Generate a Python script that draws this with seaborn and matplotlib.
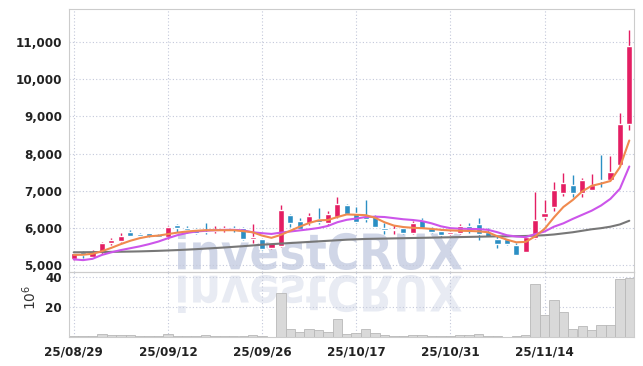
import numpy as np
import pandas as pd
import matplotlib
matplotlib.use('Agg')
import matplotlib.pyplot as plt
import seaborn as sns
from matplotlib.textpath import TextPath
from matplotlib.patches import PathPatch
from matplotlib.font_manager import FontProperties
from matplotlib.transforms import Affine2D, IdentityTransform
from matplotlib.ticker import FuncFormatter

# tick labels on the date axis (every 10th session)
date_labels = ['25/08/29', '25/09/12', '25/09/26', '25/10/17', '25/10/31', '25/11/14']
label_pos = [0, 10, 20, 30, 40, 50]

# daily candles
opens = [5170, 5360, 5220, 5350, 5590, 5640, 5900, 5820, 5855, 5810,
         5750, 6070, 6000, 5975, 5890, 5925, 5950, 6000, 6005, 5690,
         5700, 5450, 5500, 6355, 6175, 6125, 6225, 6130, 6290, 6620,
         6390, 6330, 6330, 6005, 5945, 5990, 5865, 6220, 6000, 5925,
         5835, 5855, 6060, 6115, 5880, 5685, 5685, 5550, 5360, 5720,
         6290, 6555, 6930, 7165, 6945, 7030, 7280, 7300, 7700, 8785]
highs = [5340, 5370, 5390, 5630, 5720, 5855, 5945, 5855, 5870, 5835,
         6060, 6100, 6040, 5990, 6135, 6060, 6040, 6060, 6010, 6100,
         5710, 5600, 6620, 6360, 6270, 6400, 6530, 6440, 6820, 6630,
         6555, 6735, 6340, 6135, 6070, 5995, 6190, 6260, 6010, 5960,
         5905, 6090, 6135, 6270, 5985, 5790, 5690, 5600, 5750, 6960,
         6755, 7230, 7480, 7430, 7350, 7440, 7970, 7930, 9090, 11320]
lows = [5140, 5180, 5200, 5300, 5550, 5610, 5770, 5740, 5745, 5750,
        5695, 5880, 5870, 5830, 5840, 5850, 5880, 5900, 5680, 5600,
        5390, 5420, 5490, 6020, 5960, 6080, 6090, 6080, 6270, 6370,
        6140, 6150, 6010, 5840, 5840, 5840, 5840, 5990, 5870, 5760,
        5815, 5830, 5855, 5660, 5740, 5450, 5550, 5260, 5350, 5710,
        6215, 6465, 6845, 6825, 6830, 7020, 7095, 7290, 7690, 8640]
closes = [5310, 5270, 5360, 5590, 5660, 5790, 5775, 5775, 5790, 5760,
          6015, 6000, 5930, 5865, 5875, 5965, 6005, 5980, 5690, 5765,
          5440, 5590, 6490, 6135, 5965, 6330, 6145, 6380, 6650, 6380,
          6150, 6225, 6020, 5945, 5960, 5860, 6135, 6000, 5880, 5795,
          5875, 6060, 5945, 5840, 5745, 5560, 5560, 5280, 5745, 6220,
          6410, 7005, 7200, 6935, 7275, 7165, 7270, 7515, 8800, 10885]

# volume in millions of shares
volume = [0.7, 0.7, 0.7, 2.2, 1.3, 1.3, 1.3, 0.7, 0.7, 0.7,
          2.2, 0.7, 0.7, 0.7, 1.3, 0.7, 0.7, 0.7, 0.7, 1.3,
          0.7, 0.3, 29.0, 5.6, 3.6, 5.6, 4.9, 3.6, 12.1, 2.2,
          2.9, 5.4, 2.9, 1.6, 0.7, 0.7, 1.3, 1.3, 0.7, 0.7,
          0.7, 1.3, 1.3, 2.2, 0.7, 0.7, 0.2, 0.7, 1.3, 35.5,
          14.4, 24.5, 16.6, 5.6, 7.0, 4.9, 8.3, 8.3, 38.5, 39.0]

# moving average lines as drawn
ma_short = [5270, 5275, 5300, 5370, 5460, 5560, 5650, 5720, 5770, 5790,
            5830, 5870, 5900, 5920, 5935, 5935, 5935, 5935, 5910, 5880,
            5790, 5730, 5810, 5920, 6030, 6130, 6200, 6210, 6290, 6360,
            6350, 6340, 6270, 6150, 6060, 6020, 6000, 5990, 5970, 5945,
            5930, 5920, 5915, 5905, 5880, 5770, 5680, 5610, 5620, 5770,
            5970, 6280, 6560, 6750, 6980, 7130, 7190, 7260, 7630, 8350]
ma_mid = [5150, 5130, 5165, 5270, 5340, 5400, 5450, 5500, 5560, 5630,
          5720, 5800, 5860, 5900, 5920, 5935, 5945, 5945, 5930, 5880,
          5855, 5835, 5870, 5900, 5930, 5960, 5995, 6050, 6150, 6215,
          6250, 6290, 6300, 6290, 6260, 6230, 6210, 6180, 6120, 6040,
          5990, 5975, 5970, 5965, 5945, 5880, 5800, 5765, 5750, 5830,
          5900, 6030, 6120, 6240, 6350, 6460, 6600, 6780, 7050, 7650]
ma_long = [5340, 5342, 5345, 5348, 5352, 5356, 5360, 5365, 5372, 5380,
           5390, 5400, 5412, 5425, 5440, 5455, 5470, 5488, 5505, 5525,
           5545, 5560, 5575, 5590, 5605, 5620, 5635, 5650, 5665, 5680,
           5690, 5700, 5705, 5710, 5715, 5720, 5725, 5730, 5735, 5740,
           5745, 5750, 5755, 5760, 5765, 5770, 5770, 5775, 5780, 5790,
           5800, 5820, 5850, 5880, 5920, 5960, 5990, 6030, 6090, 6190]

df = pd.DataFrame({'open': opens, 'high': highs, 'low': lows, 'close': closes,
                   'volume': volume, 'ma_short': ma_short, 'ma_mid': ma_mid,
                   'ma_long': ma_long})
df['i'] = np.arange(len(df))

sns.set_style('white')
plt.rcParams['font.family'] = ['DejaVu Sans']
tick_font = FontProperties(family='DejaVu Sans', stretch='condensed', weight='bold', size=9.5)

W, H = 643, 366
fig = plt.figure(figsize=(W / 100, H / 100), dpi=100)
fig.patch.set_facecolor('white')
ax = fig.add_axes([69 / W, 1 - 272 / H, (634 - 69) / W, (272 - 9) / H])
axv = fig.add_axes([69 / W, 1 - 337 / H, (634 - 69) / W, (337 - 272) / H], sharex=ax)

# watermark + mirrored reflection (behind everything)
fp = FontProperties(family='DejaVu Sans', weight='bold')
tp = TextPath((0, 0), 'investCRUX', size=100, prop=fp)
bb = tp.get_extents()
sx = 284 / bb.width
sy = 38 / bb.height
base = Affine2D().translate(-bb.x0, -bb.y0)
wm = PathPatch(tp, transform=base + Affine2D().scale(sx, sy).translate(178, H - 270) + IdentityTransform(),
               fc='#d0d6e7', ec='none', zorder=-5)
wm2 = PathPatch(tp, transform=base + Affine2D().scale(sx, -sy).translate(178, H - 275) + IdentityTransform(),
                fc='#e8ebf3', ec='none', zorder=-5)
fig.add_artist(wm)
fig.add_artist(wm2)

for a in (ax, axv):
    a.set_facecolor('none')
    for s in a.spines.values():
        s.set_color('#cccccc')
        s.set_linewidth(0.8)
    a.grid(True, ls=(0, (1, 2)), color='#c3c8da', lw=0.8)
    a.set_axisbelow(True)
    a.tick_params(length=0, pad=5, labelcolor='#222222')

# candles
up = df['close'] >= df['open']
cols = np.where(up, '#e41e63', '#2b8fc4')
ax.vlines(df['i'], df['low'], df['high'], colors=cols, lw=1.0, zorder=3)
body = (df['close'] - df['open']).abs().clip(lower=12)
ax.bar(df['i'], body, bottom=df[['open', 'close']].min(axis=1), width=0.66,
       color=cols, zorder=4)

# moving averages
sns.lineplot(data=df, x='i', y='ma_long', ax=ax, color='#777777', lw=1.5, zorder=5)
sns.lineplot(data=df, x='i', y='ma_mid', ax=ax, color='#cc55ea', lw=1.5, zorder=6)
sns.lineplot(data=df, x='i', y='ma_short', ax=ax, color='#f08a4e', lw=1.5, zorder=7)

ax.set_ylim(4810, 11890)
ax.set_yticks(range(5000, 11001, 1000))
ax.yaxis.set_major_formatter(FuncFormatter(lambda v, p: f'{v:,.0f}'))
ax.set_xlabel('')
ax.set_ylabel('')
ax.tick_params(labelbottom=False)
for t in ax.get_yticklabels():
    t.set_fontproperties(tick_font)

# volume
sns.barplot(data=df, x='i', y='volume', ax=axv, native_scale=True, color='#d9d9d9',
            edgecolor='#b8b8b8', linewidth=0.6, width=1.0, saturation=1, errorbar=None, zorder=2)
axv.set_ylim(0, 43.3)
axv.set_yticks([20, 40])
axv.set_xlim(-0.5, 59.5)
axv.set_xticks(label_pos)
axv.set_xticklabels(date_labels, fontproperties=tick_font)
axv.set_yticklabels(['20', '40'], fontproperties=tick_font)
axv.set_xlabel('')
axv.set_ylabel('')
axv.tick_params(axis='x', pad=6)
fig.text(30 / W, 1 - 297 / H, r'$10^6$', rotation=90, ha='center', va='center',
         fontsize=10, color='#333333')

fig.savefig('out.png', dpi=100)
